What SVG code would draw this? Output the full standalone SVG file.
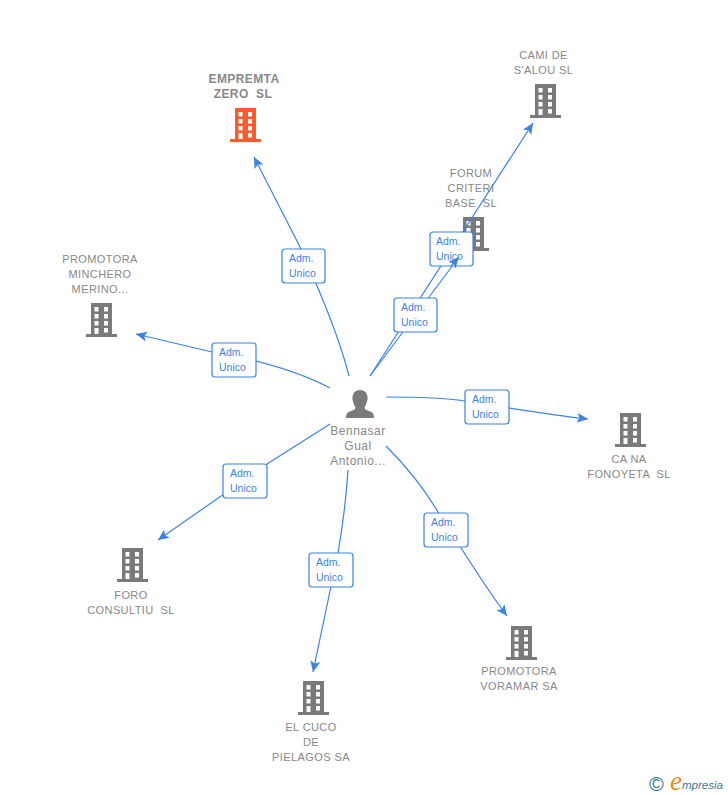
<svg xmlns="http://www.w3.org/2000/svg" width="728" height="795" viewBox="0 0 728 795">
<style>
text{font-family:"Liberation Sans",Arial,sans-serif;white-space:pre}
.lb{font-size:11px;fill:#888;text-anchor:middle;letter-spacing:.4px}
.b{font-weight:bold;font-size:12px}
.c{fill:none;stroke:#3b82e6;stroke-width:1.2}
.box{fill:#fff;stroke:#3b82e6;stroke-width:1.2}
.t{font-size:10.5px;fill:#3b82e6}
</style>
<defs>
<marker id="ah" markerUnits="userSpaceOnUse" markerWidth="13" markerHeight="12" refX="11" refY="5" orient="auto">
<path d="M0 0L11 5L0 10L2.5 5Z" fill="#3b82e6"/>
</marker>
<g id="bld">
<path fill-rule="evenodd" d="M5 0H26V31H31V34H0V31H5ZM8.500 4V8.500H12.500V4ZM18 4V8.500H22V4ZM8.500 11V15.500H12.500V11ZM18 11V15.500H22V11ZM8.500 18V22.500H12.500V18ZM18 18V22.500H22V18ZM8.500 25V31H12.500V25ZM18 25V29.500H22V25Z"/>
</g>
</defs>
<g id="node-forum"><text class="lb"><tspan x="471" y="177">FORUM</tspan><tspan x="471" y="192">CRITERI</tspan><tspan x="471" y="207">BASE  SL</tspan></text><use href="#bld" x="458" y="217" fill="#7a7a7a"/></g>
<g id="connectors">
<path class="c" marker-end="url(#ah)" d="M349 376C340 340 322 295 298 243L254 157"/>
<path class="c" marker-end="url(#ah)" d="M370 376L533 123"/>
<path class="c" d="M370 376L459 257"/>
<path class="c" marker-end="url(#ah)" d="M330 388C300 372 265 361 212 352L136 334"/>
<path class="c" marker-end="url(#ah)" d="M386 397C420 397 445 398 465 401C510 408 550 415 588 419"/>
<path class="c" marker-end="url(#ah)" d="M330 424L267 464L158 540"/>
<path class="c" marker-end="url(#ah)" d="M348 470C346 500 342 530 338 553L313 672"/>
<path class="c" marker-end="url(#ah)" d="M386 446C405 465 425 490 438 512C450 530 480 580 507 616"/>
</g>
<g id="lbl-emprempta"><rect class="box" x="282" y="249" width="43" height="34" rx="3"/><text class="t"><tspan x="289" y="262">Adm.</tspan><tspan x="289" y="277">Unico</tspan></text></g>
<g id="lbl-forum"><rect class="box" x="394" y="298" width="43" height="34" rx="3"/><text class="t"><tspan x="401" y="311">Adm.</tspan><tspan x="401" y="326">Unico</tspan></text></g>
<g id="lbl-cami"><rect class="box" x="430" y="232" width="43" height="34" rx="3"/><text class="t"><tspan x="436" y="245">Adm.</tspan><tspan x="436" y="260">Unico</tspan></text></g>
<g id="connector-top"><path class="c" marker-end="url(#ah)" d="M451 266L459 257"/></g>
<g id="lbl-minchero"><rect class="box" x="212" y="343" width="44" height="34" rx="3"/><text class="t"><tspan x="219" y="356">Adm.</tspan><tspan x="219" y="371">Unico</tspan></text></g>
<g id="lbl-cana"><rect class="box" x="465" y="390" width="44" height="34" rx="3"/><text class="t"><tspan x="472" y="403">Adm.</tspan><tspan x="472" y="418">Unico</tspan></text></g>
<g id="lbl-foro"><rect class="box" x="223" y="464" width="44" height="34" rx="3"/><text class="t"><tspan x="230" y="477">Adm.</tspan><tspan x="230" y="492">Unico</tspan></text></g>
<g id="lbl-cuco"><rect class="box" x="309" y="553" width="44" height="34" rx="3"/><text class="t"><tspan x="316" y="566">Adm.</tspan><tspan x="316" y="581">Unico</tspan></text></g>
<g id="lbl-voramar"><rect class="box" x="424" y="513" width="44" height="34" rx="3"/><text class="t"><tspan x="431" y="526">Adm.</tspan><tspan x="431" y="541">Unico</tspan></text></g>
<g id="node-emprempta"><text class="lb b"><tspan x="244" y="83">EMPREMTA</tspan><tspan x="243" y="98">ZERO  SL</tspan></text><use href="#bld" x="230" y="108" fill="#ff5a2b"/></g>
<g id="node-cami"><text class="lb"><tspan x="543.500" y="59">CAMI DE</tspan><tspan x="543.500" y="74">S'ALOU SL</tspan></text><use href="#bld" x="530" y="84" fill="#7a7a7a"/></g>
<g id="node-minchero"><text class="lb"><tspan x="100" y="263">PROMOTORA</tspan><tspan x="100" y="278">MINCHERO</tspan><tspan x="100" y="293">MERINO...</tspan></text><use href="#bld" x="86" y="303" fill="#7a7a7a"/></g>
<g id="node-cana"><use href="#bld" x="615" y="413" fill="#7a7a7a"/><text class="lb"><tspan x="629" y="463">CA NA</tspan><tspan x="629" y="478">FONOYETA  SL</tspan></text></g>
<g id="node-foro"><use href="#bld" x="117" y="548" fill="#7a7a7a"/><text class="lb"><tspan x="131" y="599">FORO</tspan><tspan x="131" y="614">CONSULTIU  SL</tspan></text></g>
<g id="node-voramar"><use href="#bld" x="506" y="626" fill="#7a7a7a"/><text class="lb"><tspan x="519" y="675">PROMOTORA</tspan><tspan x="519" y="690">VORAMAR SA</tspan></text></g>
<g id="node-cuco"><use href="#bld" x="298" y="681" fill="#7a7a7a"/><text class="lb"><tspan x="311" y="731">EL CUCO</tspan><tspan x="311" y="746">DE</tspan><tspan x="311" y="761">PIELAGOS SA</tspan></text></g>
<g id="node-bennasar">
<path fill="#7a7a7a" d="M360 390C365.500 390 368 394.500 367.500 399C367 403 365.500 405.500 364.500 407.500C364.500 409.500 366 410 369 411C372.500 412 374 413.500 374 418H346C346 413.500 347.500 412 351 411C354 410 355.500 409.500 355.500 407.500C354.500 405.500 353 403 352.500 399C352 394.500 354.500 390 360 390Z"/>
<text class="lb" style="font-size:12px;letter-spacing:.5px"><tspan x="358" y="435">Bennasar</tspan><tspan x="358" y="450">Gual</tspan><tspan x="358" y="465">Antonio...</tspan></text>
</g>
<g id="logo">
<text x="649" y="791" style="font-size:20px" fill="#2f6f8f">©</text>
<text x="670" y="790" style="font-family:'Liberation Serif',serif;font-size:27px;font-style:italic" fill="#f08a1d">e</text>
<text x="682" y="789" style="font-size:11.500px;font-style:italic" fill="#3a7a96">mpresia</text>
</g>
</svg>
